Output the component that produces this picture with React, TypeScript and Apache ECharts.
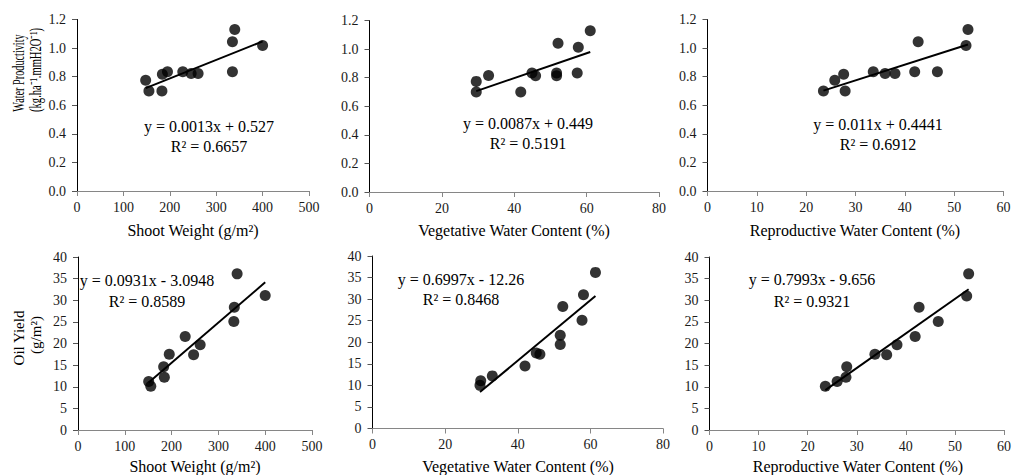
import React, { useEffect, useRef } from "react";
import * as echarts from "echarts";

// ---- Data ----
// Panel 1: Shoot weight vs Water productivity
const shootX_wp = [148, 155, 183, 184, 195, 228, 246, 261, 335, 335, 340, 400];
const wp_shoot = [0.775, 0.7, 0.7, 0.817, 0.834, 0.834, 0.822, 0.822, 0.834, 1.044, 1.13, 1.018];
// Panel 2: Vegetative water content vs Water productivity
const vegX_wp = [29.5, 29.5, 32.9, 41.8, 44.9, 45.9, 51.7, 51.7, 52.1, 57.4, 57.7, 61.0];
const wp_veg = [0.774, 0.699, 0.815, 0.699, 0.832, 0.813, 0.832, 0.813, 1.041, 0.832, 1.013, 1.128];
// Panel 3: Reproductive water content vs Water productivity
const repX_wp = [23.5, 25.8, 27.6, 27.9, 33.6, 36.0, 38.0, 42.0, 42.7, 46.6, 52.4, 52.8];
const wp_rep = [0.7, 0.775, 0.817, 0.7, 0.834, 0.822, 0.822, 0.834, 1.044, 0.834, 1.018, 1.13];
// Panel 4: Shoot weight vs Oil yield
const shootX_oil = [151, 155.5, 183, 184.5, 195, 229, 247, 261, 333, 334, 340, 400];
const oil_shoot = [11.2, 10.1, 14.6, 12.2, 17.5, 21.6, 17.4, 19.7, 25.1, 28.4, 36.1, 31.1];
// Panel 5: Vegetative water content vs Oil yield
const vegX_oil = [29.6, 29.8, 33.0, 42.0, 45.1, 46.1, 51.7, 51.7, 52.4, 57.7, 58.1, 61.4];
const oil_veg = [10.0, 11.05, 12.2, 14.5, 17.5, 17.2, 19.5, 21.6, 28.3, 25.1, 31.0, 36.2];
// Panel 6: Reproductive water content vs Oil yield
const repX_oil = [23.6, 26.0, 27.8, 27.96, 33.7, 36.1, 38.2, 41.9, 42.7, 46.6, 52.4, 52.8];
const oil_rep = [10.1, 11.2, 12.2, 14.6, 17.5, 17.4, 19.7, 21.6, 28.4, 25.1, 31.0, 36.1];

// Trend lines (slope, intercept, x-range of fit)
const trendSlopes = [0.0013, 0.0087, 0.011, 0.0931, 0.6997, 0.7993];
const trendIntercepts = [0.527, 0.449, 0.4441, -3.0948, -12.26, -9.656];
const trendStartX = [148, 29.5, 23.5, 151, 29.6, 23.6];
const trendEndX = [400, 61.0, 52.8, 400, 61.4, 52.8];

const equations = [
  "y = 0.0013x + 0.527",
  "y = 0.0087x + 0.449",
  "y = 0.011x + 0.4441",
  "y = 0.0931x - 3.0948",
  "y = 0.6997x - 12.26",
  "y = 0.7993x - 9.656",
];
const rSquared = ["R² = 0.6657", "R² = 0.5191", "R² = 0.6912", "R² = 0.8589", "R² = 0.8468", "R² = 0.9321"];

const xTitles = [
  "Shoot Weight (g/m²)",
  "Vegetative Water Content (%)",
  "Reproductive Water Content (%)",
  "Shoot Weight (g/m²)",
  "Vegetative Water Content (%)",
  "Reproductive Water Content (%)",
];
const xMax = [500, 80, 60, 500, 80, 60];
const xInterval = [100, 20, 10, 100, 20, 10];
const yMax = [1.2, 1.2, 1.2, 40, 40, 40];
const yInterval = [0.2, 0.2, 0.2, 5, 5, 5];

const xData = [shootX_wp, vegX_wp, repX_wp, shootX_oil, vegX_oil, repX_oil];
const yData = [wp_shoot, wp_veg, wp_rep, oil_shoot, oil_veg, oil_rep];

// ---- Layout ----
const grids = [
  { left: 77, right: 309, top: 19.5, bottom: 191 },
  { left: 369.5, right: 659, top: 20.5, bottom: 192 },
  { left: 707.5, right: 1003.5, top: 19.5, bottom: 191 },
  { left: 78, right: 312, top: 257, bottom: 430 },
  { left: 372.5, right: 663, top: 256, bottom: 428.5 },
  { left: 709.5, right: 1008, top: 257, bottom: 430 },
];
const eqPos = [
  { x: 209, y: 126, ry: 146 },
  { x: 528, y: 123, ry: 143 },
  { x: 878, y: 124, ry: 144 },
  { x: 147, y: 280, ry: 301 },
  { x: 461, y: 279, ry: 299 },
  { x: 812, y: 279, ry: 301 },
];
const xTitlePos = [
  { x: 193, y: 230 },
  { x: 514, y: 230 },
  { x: 855, y: 230 },
  { x: 195, y: 466 },
  { x: 518, y: 466 },
  { x: 858, y: 466 },
];

const FONT = "Liberation Serif";

export default function App() {
  const ref = useRef<HTMLDivElement>(null);

  useEffect(() => {
    if (!ref.current) return;
    const chart = echarts.init(ref.current, undefined, { renderer: "svg" });

    const grid = grids.map((g) => ({
      left: g.left,
      top: g.top,
      width: g.right - g.left,
      height: g.bottom - g.top,
      containLabel: false,
    }));

    const xAxis = xMax.map((mx, i) => ({
      type: "value",
      gridIndex: i,
      min: 0,
      max: mx,
      interval: xInterval[i],
      axisLine: { show: true, lineStyle: { color: "#868686", width: 1 } },
      axisTick: { show: true, inside: false, length: 5, lineStyle: { color: "#868686" } },
      axisLabel: { color: "#1a1a1a", fontFamily: FONT, fontSize: 14, margin: 9 },
      splitLine: { show: false },
    }));

    const yAxis = yMax.map((mx, i) => ({
      type: "value",
      gridIndex: i,
      min: 0,
      max: mx,
      interval: yInterval[i],
      axisLine: { show: true, lineStyle: { color: "#000", width: 1 } },
      axisTick: { show: true, inside: false, length: 5, lineStyle: { color: "#555" } },
      axisLabel: {
        color: "#1a1a1a",
        fontFamily: FONT,
        fontSize: 14,
        margin: 11,
        formatter: (v: number) => (i < 3 ? v.toFixed(1) : String(Math.round(v))),
      },
      splitLine: { show: false },
    }));

    const series: any[] = [];
    for (let i = 0; i < 6; i++) {
      series.push({
        type: "line",
        xAxisIndex: i,
        yAxisIndex: i,
        data: [
          [trendStartX[i], trendSlopes[i] * trendStartX[i] + trendIntercepts[i]],
          [trendEndX[i], trendSlopes[i] * trendEndX[i] + trendIntercepts[i]],
        ],
        showSymbol: false,
        symbol: "none",
        lineStyle: { color: "#000", width: 2 },
        z: 2,
        silent: true,
      });
      series.push({
        type: "scatter",
        xAxisIndex: i,
        yAxisIndex: i,
        data: xData[i].map((x, k) => [x, yData[i][k]]),
        symbol: "circle",
        symbolSize: 11,
        itemStyle: { color: "#000" },
        z: 3,
      });
    }

    const txt = (size: number) => ({ fontSize: size, fontFamily: FONT, fill: "#000", align: "center", verticalAlign: "middle" });

    const graphic: any[] = [];
    for (let i = 0; i < 6; i++) {
      graphic.push({ type: "text", x: eqPos[i].x, y: eqPos[i].y, style: { text: equations[i], ...txt(16) } });
      graphic.push({ type: "text", x: eqPos[i].x, y: eqPos[i].ry, style: { text: rSquared[i], ...txt(16) } });
      graphic.push({ type: "text", x: xTitlePos[i].x, y: xTitlePos[i].y, style: { text: xTitles[i], ...txt(16) } });
    }
    // Y-axis titles
    graphic.push({
      type: "text",
      x: 19,
      y: 73,
      rotation: Math.PI / 2,
      scaleX: 0.64,
      style: { text: "Water Productivity", ...txt(16) },
    });
    graphic.push({
      type: "text",
      x: 36,
      y: 70,
      rotation: Math.PI / 2,
      scaleX: 0.66,
      style: { text: "(kg.ha⁻¹.mmH2O⁻¹)", ...txt(16) },
    });
    graphic.push({
      type: "text",
      x: 19,
      y: 338,
      rotation: Math.PI / 2,
      style: { text: "Oil Yield", ...txt(15) },
    });
    graphic.push({
      type: "text",
      x: 36,
      y: 335,
      rotation: Math.PI / 2,
      style: { text: "(g/m²)", ...txt(15) },
    });

    chart.setOption({
      animation: false,
      backgroundColor: "#fff",
      textStyle: { fontFamily: FONT },
      grid,
      xAxis,
      yAxis,
      series,
      graphic,
    });

    return () => chart.dispose();
  }, []);

  return (
    <div
      ref={ref}
      style={{ position: "absolute", left: 0, top: 0, width: 1014, height: 475, background: "#fff" }}
    />
  );
}
